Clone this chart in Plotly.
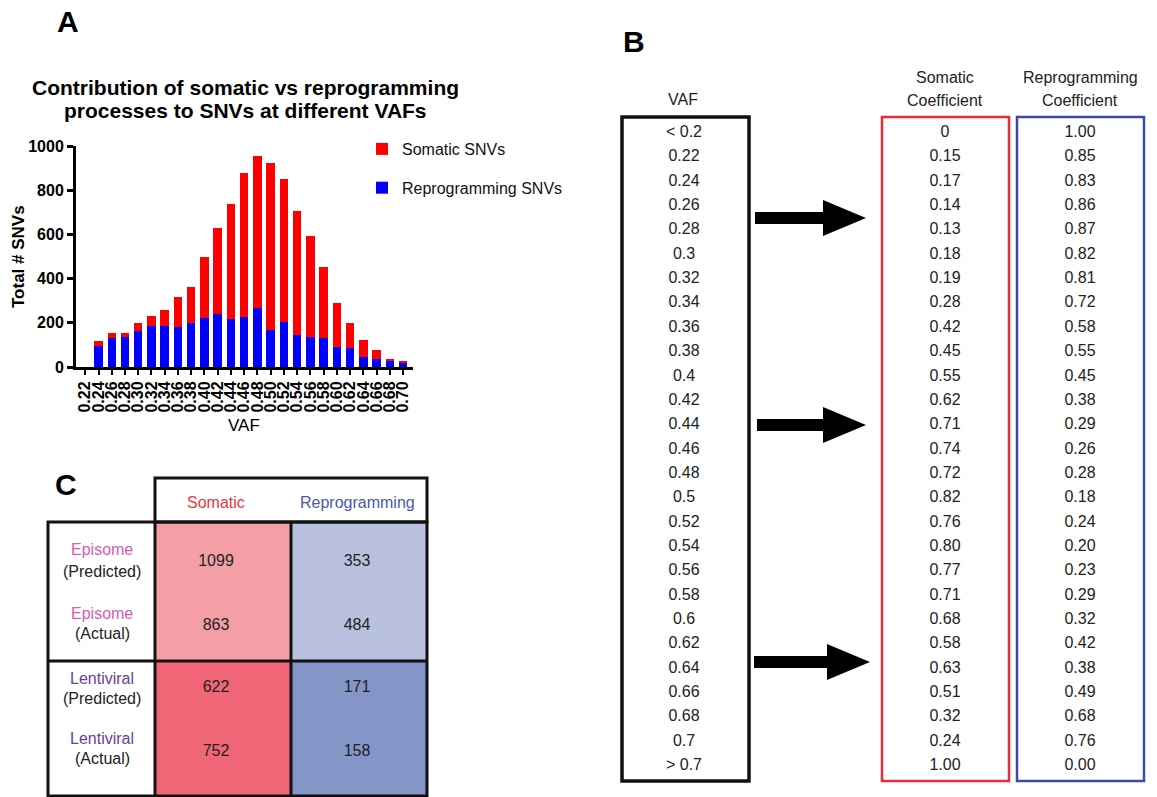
import plotly.graph_objects as go

# ---------------- Panel A data ----------------
vaf_bins = ["0.22", "0.24", "0.26", "0.28", "0.30", "0.32", "0.34", "0.36", "0.38", "0.40",
            "0.42", "0.44", "0.46", "0.48", "0.50", "0.52", "0.54", "0.56", "0.58", "0.60",
            "0.62", "0.64", "0.66", "0.68", "0.70"]
reprogramming_snvs = [0, 95, 129, 135, 164, 185, 185, 183, 198, 221,
                      239, 215, 227, 268, 167, 205, 143, 135, 131, 92,
                      84, 44, 36, 26, 21]
somatic_snvs = [0, 21, 23, 18, 37, 44, 74, 133, 166, 277,
                388, 522, 651, 688, 756, 645, 564, 457, 320, 197,
                114, 76, 42, 12, 8]
y_ticks = [0, 200, 400, 600, 800, 1000]

# ---------------- Panel B data ----------------
vaf_rows = ["< 0.2", "0.22", "0.24", "0.26", "0.28", "0.3", "0.32", "0.34", "0.36", "0.38",
            "0.4", "0.42", "0.44", "0.46", "0.48", "0.5", "0.52", "0.54", "0.56", "0.58",
            "0.6", "0.62", "0.64", "0.66", "0.68", "0.7", "> 0.7"]
somatic_coef = ["0", "0.15", "0.17", "0.14", "0.13", "0.18", "0.19", "0.28", "0.42", "0.45",
                "0.55", "0.62", "0.71", "0.74", "0.72", "0.82", "0.76", "0.80", "0.77", "0.71",
                "0.68", "0.58", "0.63", "0.51", "0.32", "0.24", "1.00"]
reprog_coef = ["1.00", "0.85", "0.83", "0.86", "0.87", "0.82", "0.81", "0.72", "0.58", "0.55",
               "0.45", "0.38", "0.29", "0.26", "0.28", "0.18", "0.24", "0.20", "0.23", "0.29",
               "0.32", "0.42", "0.38", "0.49", "0.68", "0.76", "0.00"]

# ---------------- Panel C data ----------------
c_columns = ["Somatic", "Reprogramming"]
c_row_names = ["Episome", "Episome", "Lentiviral", "Lentiviral"]
c_row_kinds = ["(Predicted)", "(Actual)", "(Predicted)", "(Actual)"]
c_somatic = [1099, 863, 622, 752]
c_reprog = [353, 484, 171, 158]

FONT = "Liberation Sans, Arial, Helvetica, sans-serif"
W, H = 1157, 797

fig = go.Figure()

# ---------- Panel A: stacked bars ----------
fig.add_trace(go.Bar(x=vaf_bins, y=reprogramming_snvs, name="Reprogramming SNVs",
                     marker=dict(color="#0000ff", line=dict(width=0)),
                     legendgroup="r", legendrank=2, xaxis="x", yaxis="y"))
fig.add_trace(go.Bar(x=vaf_bins, y=somatic_snvs, name="Somatic SNVs",
                     marker=dict(color="#ff0000", line=dict(width=0)),
                     legendgroup="s", legendrank=1, xaxis="x", yaxis="y"))

# ---------- overlay pixel-space axis for tables ----------
row_y0, row_dy = 133, 24.35
rows_y = [row_y0 + i * row_dy for i in range(len(vaf_rows))]
col_vaf_x, col_som_x, col_rep_x = 684, 945, 1080
for xs, texts in ((col_vaf_x, vaf_rows), (col_som_x, somatic_coef), (col_rep_x, reprog_coef)):
    fig.add_trace(go.Scatter(x=[xs] * len(texts), y=rows_y, text=texts, mode="text",
                             textposition="middle center",
                             textfont=dict(family=FONT, size=16, color="#222222"),
                             showlegend=False, hoverinfo="skip", xaxis="x2", yaxis="y2"))

c_row_y = [562, 626, 688, 752]
c_col_x = [216, 357]
fig.add_trace(go.Scatter(x=[c_col_x[0]] * 4, y=c_row_y, text=[str(v) for v in c_somatic],
                         mode="text", textposition="middle center",
                         textfont=dict(family=FONT, size=16, color="#222222"),
                         showlegend=False, hoverinfo="skip", xaxis="x2", yaxis="y2"))
fig.add_trace(go.Scatter(x=[c_col_x[1]] * 4, y=c_row_y, text=[str(v) for v in c_reprog],
                         mode="text", textposition="middle center",
                         textfont=dict(family=FONT, size=16, color="#222222"),
                         showlegend=False, hoverinfo="skip", xaxis="x2", yaxis="y2"))

shapes = []
shapes.append(dict(type="rect", x0=622, x1=749, y0=117, y1=781, line=dict(color="#111111", width=3.5)))
shapes.append(dict(type="rect", x0=882, x1=1009, y0=117, y1=781, line=dict(color="#ee2a3a", width=2.5)))
shapes.append(dict(type="rect", x0=1017, x1=1144, y0=117, y1=781, line=dict(color="#3a4aa8", width=2.5)))
for cy, x0, x1 in ((218, 755, 866), (425, 757, 866), (662, 754, 870)):
    xh = x1 - 43
    shapes.append(dict(type="path",
                       path=f"M{x0},{cy-6} L{xh},{cy-6} L{xh},{cy-18} L{x1},{cy} L{xh},{cy+18} L{xh},{cy+6} L{x0},{cy+6} Z",
                       fillcolor="#000000", line=dict(width=0)))

c_fills = [((155, 291, 522, 661), "#f49ea6"), ((291, 427, 522, 661), "#b9c1de"),
           ((155, 291, 661, 797), "#f06676"), ((291, 427, 661, 797), "#8495c8")]
for (x0, x1, y0, y1), col in c_fills:
    shapes.append(dict(type="rect", x0=x0, x1=x1, y0=y0, y1=y1, fillcolor=col,
                       line=dict(width=0), layer="below"))
blk = dict(color="#111111", width=3)
shapes.append(dict(type="rect", x0=155, x1=427, y0=478, y1=522, line=blk))
shapes.append(dict(type="rect", x0=48, x1=427, y0=522, y1=796, line=blk))
shapes.append(dict(type="line", x0=155, x1=155, y0=522, y1=796, line=blk))
shapes.append(dict(type="line", x0=291, x1=291, y0=522, y1=796, line=blk))
shapes.append(dict(type="line", x0=48, x1=427, y0=661, y1=661, line=blk))
for s in shapes:
    s["xref"] = "x2"
    s["yref"] = "y2"

annotations = []
def ann(text, x, y, size, color="#000000", bold=False, angle=0, xanchor="center"):
    annotations.append(dict(text=text, x=x, y=y, xref="x2", yref="y2", showarrow=False,
                            textangle=angle, xanchor=xanchor, yanchor="middle",
                            font=dict(family=FONT, size=size, color=color,
                                      weight="bold" if bold else "normal")))

ann("A", 68, 21, 30, bold=True)
ann("B", 634, 41, 30, bold=True)
ann("C", 66, 484, 30, bold=True)
ann("Contribution of somatic vs reprogramming", 245, 87, 21, bold=True)
ann("processes to SNVs at different VAFs", 245, 110, 21, bold=True)
ann("Total # SNVs", 18, 257, 17, bold=True, angle=-90)
ann("VAF", 244, 425, 17)
ann("VAF", 683, 99, 16, color="#222222")
ann("Somatic", 945, 77, 16, color="#222222")
ann("Coefficient", 945, 100, 16, color="#222222")
ann("Reprogramming", 1080, 77, 16, color="#222222")
ann("Coefficient", 1080, 100, 16, color="#222222")
ann(c_columns[0], 216, 502, 16, color="#ee3344")
ann(c_columns[1], 357, 502, 16, color="#4a58a8")
name_colors = {"Episome": "#d45cb4", "Lentiviral": "#6e3d9c"}
name_y = [549, 613, 678, 738]
kind_y = [571, 633, 698, 758]
for nm, kd, ny, ky in zip(c_row_names, c_row_kinds, name_y, kind_y):
    ann(nm, 102, ny, 16, color=name_colors[nm])
    ann(kd, 102, ky, 16, color="#222222")

fig.update_layout(
    width=W, height=H, autosize=False,
    margin=dict(l=0, r=0, t=0, b=0, pad=0, autoexpand=False),
    paper_bgcolor="white", plot_bgcolor="rgba(0,0,0,0)",
    barmode="stack", bargap=0.36,
    font=dict(family=FONT, color="#000000"),
    showlegend=True,
    legend=dict(x=362 / W, y=1 - 132 / H, xanchor="left", yanchor="top",
                traceorder="grouped", tracegroupgap=15,
                font=dict(family=FONT, size=16, color="#111111"),
                bgcolor="rgba(0,0,0,0)", itemwidth=30),
    xaxis=dict(domain=[76 / W, 413 / W], type="category", range=[-0.7, 24.75],
               tickmode="array", tickvals=vaf_bins, ticktext=vaf_bins,
               showline=True, linecolor="#000000", linewidth=3, mirror=False,
               ticks="outside", ticklen=5, tickwidth=2, tickcolor="#000000",
               tickangle=-90, tickfont=dict(family=FONT, size=16, weight="bold", color="#000000"),
               showgrid=False, zeroline=False, anchor="y", fixedrange=True, automargin=False),
    yaxis=dict(domain=[1 - 367 / H, 1 - 146 / H], range=[0, 1000],
               tickvals=y_ticks, ticktext=[str(v) for v in y_ticks],
               showline=True, linecolor="#000000", linewidth=3,
               ticks="outside", ticklen=6, tickwidth=3, tickcolor="#000000",
               tickfont=dict(family=FONT, size=16, weight="bold", color="#000000"),
               showgrid=False, zeroline=False, anchor="x", fixedrange=True, automargin=False),
    xaxis2=dict(domain=[0, 1], range=[0, W], visible=False, anchor="y2", fixedrange=True),
    yaxis2=dict(domain=[0, 1], range=[H, 0], visible=False, anchor="x2", fixedrange=True),
    shapes=shapes,
    annotations=annotations,
)

fig.write_html("out.html", config={"displayModeBar": False},
               post_script="document.body.style.margin='0';document.body.style.overflow='hidden';")
